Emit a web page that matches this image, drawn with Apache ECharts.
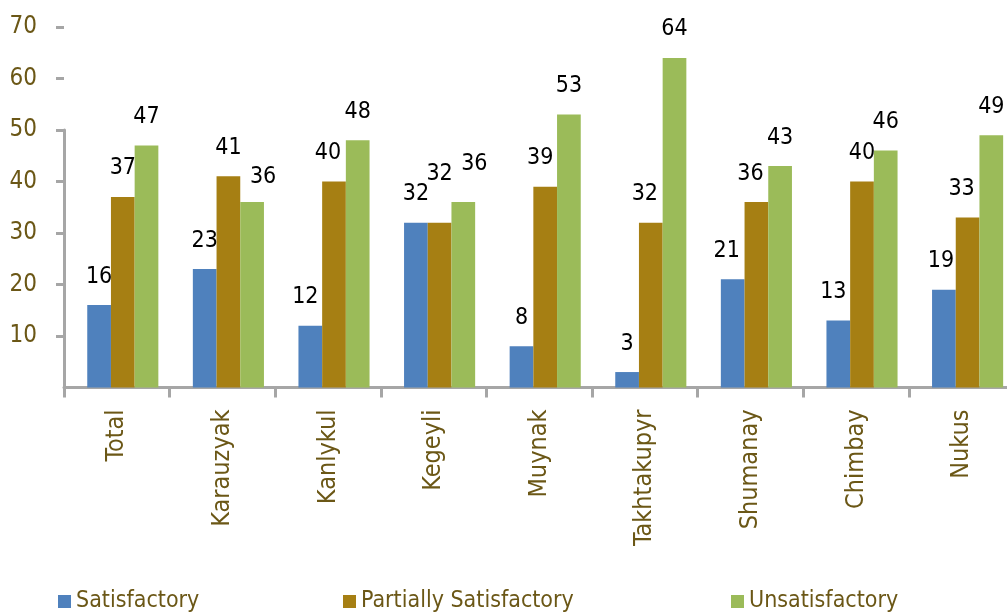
<!DOCTYPE html>
<html>
<head>
<meta charset="utf-8">
<script src="https://cdn.jsdelivr.net/npm/echarts@6/dist/echarts.min.js"></script>
<style>
  html, body { margin: 0; padding: 0; background: #fff; }
  #chart { width: 1007px; height: 615px; }
</style>
</head>
<body>
<div id="chart"></div>
<script>
// Survey results by district (percent of respondents)
const categories = ['Total', 'Karauzyak', 'Kanlykul', 'Kegeyli', 'Muynak', 'Takhtakupyr', 'Shumanay', 'Chimbay', 'Nukus'];
const satisfactory = [16, 23, 12, 32, 8, 3, 21, 13, 19];
const partiallySatisfactory = [37, 41, 40, 32, 39, 32, 36, 40, 33];
const unsatisfactory = [47, 36, 48, 36, 53, 64, 43, 46, 49];
const yTicks = { min: 0, max: 70, interval: 10 };

const FONT = '"DejaVu Sans Condensed", "DejaVu Sans", sans-serif';
const OLIVE = '#6B5716';
const GREY = '#A6A6A6';

// Hand-placed value labels: [dx, dy] in pixels, keyed by series then category index
const labelNudges = {
  'Satisfactory': { 2: [-5, 0], 6: [-6, 0], 7: [-5, 0], 8: [-3, 0] },
  'Partially Satisfactory': { 2: [-6, 0], 3: [0, -20], 4: [-5, 0], 5: [-6, 0], 6: [-6, 0], 8: [-6, 0] },
  'Unsatisfactory': { 1: [11, 3], 3: [11, -10] }
};

const chart = echarts.init(document.getElementById('chart'), null, { renderer: 'canvas' });

function barSeries(name, values, color) {
  const nudges = labelNudges[name] || {};
  return {
    name: name,
    type: 'bar',
    xAxisIndex: 1,
    yAxisIndex: 1,
    data: values.map(function (v, i) {
      const n = nudges[i];
      return n ? { value: v, label: { offset: n } } : v;
    }),
    barWidth: 23.7,
    barGap: '0%',
    itemStyle: { color: color },
    label: {
      show: true,
      position: 'top',
      distance: 17,
      color: '#000',
      fontFamily: FONT,
      fontSize: 23
    }
  };
}

function legendAt(name, left) {
  return {
    data: [name],
    left: left,
    top: 590,
    padding: 0,
    itemWidth: 13,
    itemHeight: 13,
    icon: 'rect',
    selectedMode: false,
    textStyle: { color: OLIVE, fontFamily: FONT, fontSize: 23 }
  };
}

chart.setOption({
  animation: false,
  backgroundColor: '#fff',
  grid: [
    // visible axes (last category runs past the right edge)
    { left: 64, width: 950.4, top: 27, bottom: 227.5, outerBoundsMode: 'none', containLabel: false },
    // bars, set slightly right of the category ticks
    { left: 70, width: 950.4, top: 27, bottom: 227.5, outerBoundsMode: 'none', containLabel: false },
    // vertical axis line, drawn only up to 50
    { left: 64, width: 10, top: 130, bottom: 227.5, outerBoundsMode: 'none', containLabel: false }
  ],
  legend: [
    legendAt('Satisfactory', 58),
    legendAt('Partially Satisfactory', 343),
    legendAt('Unsatisfactory', 731)
  ],
  xAxis: [
    {
      gridIndex: 0,
      type: 'category',
      data: categories,
      boundaryGap: true,
      axisLine: { show: true, lineStyle: { color: GREY, width: 3 } },
      axisTick: { show: true, length: 10, lineStyle: { color: GREY, width: 3 } },
      axisLabel: {
        rotate: 90,
        margin: 22,
        color: OLIVE,
        fontFamily: FONT,
        fontSize: 25,
        interval: 0
      },
      splitLine: { show: false }
    },
    { gridIndex: 1, type: 'category', data: categories, show: false },
    { gridIndex: 2, type: 'value', show: false }
  ],
  yAxis: [
    {
      gridIndex: 0,
      type: 'value',
      min: yTicks.min,
      max: yTicks.max,
      interval: yTicks.interval,
      axisLine: { show: false },
      axisTick: { show: true, length: 8, lineStyle: { color: GREY, width: 3 } },
      axisLabel: {
        showMinLabel: false,
        margin: 27,
        color: OLIVE,
        fontFamily: FONT,
        fontSize: 24
      },
      splitLine: { show: false }
    },
    {
      gridIndex: 1,
      type: 'value',
      min: yTicks.min,
      max: yTicks.max,
      interval: yTicks.interval,
      show: false
    },
    {
      gridIndex: 2,
      type: 'value',
      min: 0,
      max: 50,
      axisLine: { show: true, lineStyle: { color: GREY, width: 3 } },
      axisTick: { show: false },
      axisLabel: { show: false },
      splitLine: { show: false }
    }
  ],
  series: [
    barSeries('Satisfactory', satisfactory, '#4F81BD'),
    barSeries('Partially Satisfactory', partiallySatisfactory, '#A67F13'),
    barSeries('Unsatisfactory', unsatisfactory, '#9BBB59')
  ]
});
</script>
</body>
</html>
